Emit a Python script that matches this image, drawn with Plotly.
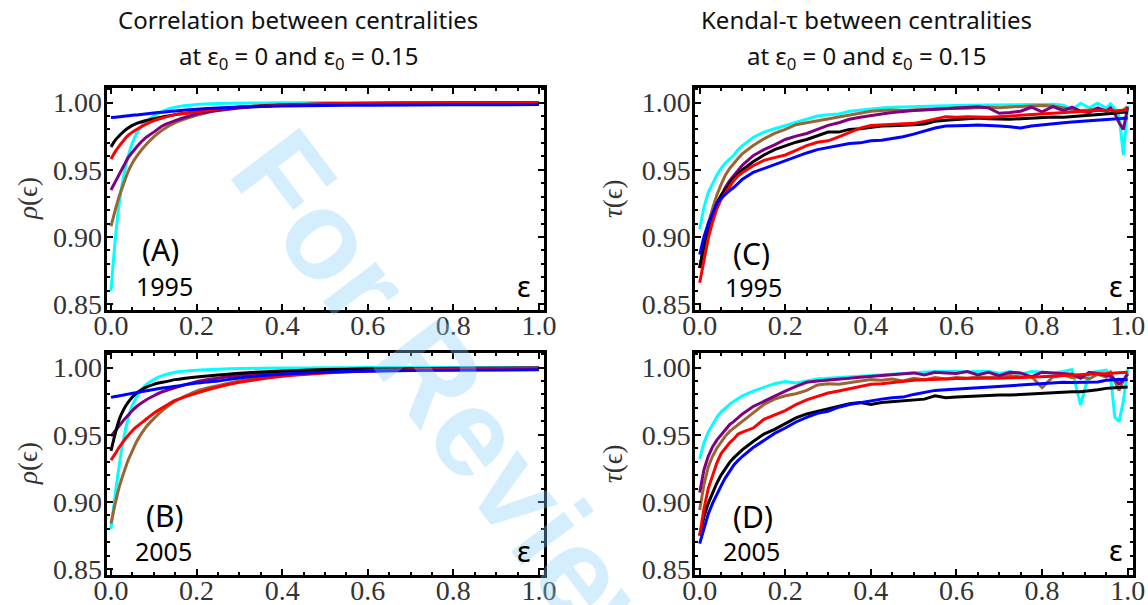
import plotly.graph_objects as go

# ---------------- data ----------------
x_rho = [0, 0.01, 0.02, 0.03, 0.04, 0.05, 0.06, 0.08, 0.1, 0.12, 0.15, 0.2, 0.25, 0.3, 0.4, 0.5, 0.6, 0.8, 1.0]

rhoA_cyan   = [0.860, 0.898, 0.927, 0.946, 0.960, 0.970, 0.977, 0.9855, 0.990, 0.9935, 0.9965, 0.9985, 0.9992, 0.9995, 0.9998, 1.0, 1.0, 1.0, 1.0]
rhoA_brown  = [0.908, 0.920, 0.931, 0.940, 0.9485, 0.955, 0.960, 0.968, 0.9745, 0.9795, 0.985, 0.9905, 0.9945, 0.9965, 0.9985, 0.999, 0.9994, 0.9996, 0.9997]
rhoA_purple = [0.935, 0.941, 0.947, 0.953, 0.959, 0.963, 0.967, 0.9735, 0.978, 0.9825, 0.9865, 0.9915, 0.994, 0.996, 0.998, 0.9988, 0.9993, 0.9996, 0.9997]
rhoA_black  = [0.967, 0.972, 0.9755, 0.9785, 0.981, 0.983, 0.9845, 0.9865, 0.988, 0.9893, 0.991, 0.993, 0.995, 0.9965, 0.998, 0.9988, 0.9992, 0.9995, 0.9997]
rhoA_red    = [0.958, 0.9635, 0.968, 0.972, 0.9755, 0.978, 0.980, 0.9835, 0.9865, 0.9885, 0.991, 0.993, 0.995, 0.9965, 0.998, 0.999, 0.9994, 0.9997, 0.9998]
rhoA_blue   = [0.9888, 0.9891, 0.9894, 0.9898, 0.9901, 0.9905, 0.9908, 0.9915, 0.9922, 0.9928, 0.9937, 0.995, 0.996, 0.9966, 0.9974, 0.9978, 0.998, 0.9983, 0.9985]

rhoB_cyan   = [0.880, 0.906, 0.929, 0.948, 0.962, 0.972, 0.978, 0.9865, 0.991, 0.994, 0.9965, 0.998, 0.9988, 0.9992, 0.9996, 0.9998, 1.0, 1.0, 1.0]
rhoB_brown  = [0.884, 0.899, 0.912, 0.922, 0.931, 0.938, 0.945, 0.955, 0.962, 0.968, 0.975, 0.9825, 0.9865, 0.990, 0.9945, 0.997, 0.9983, 0.9992, 0.9995]
rhoB_purple = [0.949, 0.953, 0.957, 0.961, 0.9645, 0.968, 0.971, 0.9755, 0.979, 0.982, 0.985, 0.9895, 0.992, 0.994, 0.9965, 0.998, 0.9988, 0.9994, 0.9996]
rhoB_black  = [0.938, 0.951, 0.962, 0.969, 0.974, 0.978, 0.981, 0.985, 0.9875, 0.989, 0.991, 0.993, 0.9945, 0.9958, 0.9975, 0.9985, 0.999, 0.9993, 0.9995]
rhoB_red    = [0.931, 0.936, 0.941, 0.9455, 0.9495, 0.953, 0.956, 0.961, 0.966, 0.970, 0.9755, 0.981, 0.9855, 0.989, 0.9935, 0.996, 0.9975, 0.999, 0.9995]
rhoB_blue   = [0.9778, 0.9784, 0.979, 0.9796, 0.9802, 0.9808, 0.9814, 0.9826, 0.9837, 0.9847, 0.986, 0.9885, 0.990, 0.9922, 0.995, 0.9965, 0.9973, 0.998, 0.9983]

x_tau = [0, 0.01, 0.02, 0.03, 0.04, 0.05, 0.06, 0.07, 0.08, 0.09, 0.10, 0.125, 0.15, 0.175, 0.2,
         0.225, 0.25, 0.275, 0.3, 0.325, 0.35, 0.375, 0.4, 0.425, 0.45, 0.475, 0.5, 0.525, 0.55,
         0.575, 0.6, 0.625, 0.65, 0.675, 0.7, 0.725, 0.75, 0.775, 0.8, 0.825, 0.85, 0.87, 0.89,
         0.91, 0.93, 0.95, 0.96, 0.97, 0.98, 0.99, 1.0]

tauC_cyan = [0.906, 0.922, 0.933, 0.940, 0.946, 0.951, 0.955, 0.958, 0.961, 0.965, 0.968, 0.974, 0.978, 0.9805, 0.983,
             0.9855, 0.9875, 0.990, 0.991, 0.9915, 0.9935, 0.9945, 0.9955, 0.996, 0.9965, 0.9968, 0.997, 0.997, 0.9973,
             0.9975, 0.9978, 0.998, 0.998, 0.9982, 0.998, 0.9983, 0.9985, 0.9985, 0.9986, 0.9988, 0.998, 0.9945, 0.9995,
             0.996, 0.9995, 0.9958, 0.999, 0.9955, 0.990, 0.961, 0.9975]
tauC_brown = [0.877, 0.895, 0.910, 0.921, 0.931, 0.939, 0.946, 0.951, 0.955, 0.9585, 0.962, 0.968, 0.973, 0.977, 0.980,
              0.9835, 0.985, 0.9865, 0.988, 0.9895, 0.991, 0.992, 0.9935, 0.994, 0.9945, 0.994, 0.9945, 0.9948, 0.995,
              0.9955, 0.996, 0.9958, 0.9962, 0.9965, 0.9962, 0.9968, 0.997, 0.9975, 0.9978, 0.9975, 0.996, 0.995, 0.994,
              0.9945, 0.9955, 0.994, 0.9945, 0.9935, 0.994, 0.9945, 0.997]
tauC_purple = [0.877, 0.893, 0.906, 0.916, 0.924, 0.931, 0.937, 0.942, 0.946, 0.950, 0.9535, 0.9605, 0.965, 0.9685, 0.9725,
               0.975, 0.977, 0.980, 0.983, 0.985, 0.9875, 0.989, 0.9905, 0.9915, 0.9925, 0.9935, 0.994, 0.9945, 0.995,
               0.9955, 0.996, 0.9965, 0.9968, 0.996, 0.992, 0.9925, 0.9935, 0.9965, 0.993, 0.997, 0.994, 0.9965, 0.9935,
               0.9925, 0.996, 0.9935, 0.996, 0.9915, 0.985, 0.980, 0.9965]
tauC_black = [0.877, 0.893, 0.906, 0.916, 0.925, 0.931, 0.935, 0.940, 0.944, 0.947, 0.950, 0.956, 0.961, 0.965, 0.968,
              0.9705, 0.9725, 0.975, 0.978, 0.978, 0.980, 0.9805, 0.9815, 0.9825, 0.9828, 0.983, 0.9835, 0.984, 0.986,
              0.9868, 0.9875, 0.988, 0.9885, 0.988, 0.9875, 0.9875, 0.988, 0.9885, 0.989, 0.9892, 0.989, 0.9895, 0.990,
              0.9905, 0.991, 0.991, 0.9915, 0.992, 0.9925, 0.993, 0.993]
tauC_red = [0.866, 0.884, 0.899, 0.911, 0.921, 0.928, 0.933, 0.938, 0.942, 0.9455, 0.948, 0.953, 0.957, 0.959, 0.961,
            0.9645, 0.968, 0.9705, 0.9715, 0.9745, 0.978, 0.981, 0.983, 0.9835, 0.984, 0.984, 0.9845, 0.986, 0.988,
            0.9895, 0.989, 0.9895, 0.9892, 0.989, 0.9895, 0.990, 0.9905, 0.991, 0.9915, 0.992, 0.9925, 0.993, 0.9935,
            0.9935, 0.994, 0.994, 0.9945, 0.9935, 0.994, 0.9945, 0.9945]
tauC_blue = [0.887, 0.900, 0.910, 0.918, 0.925, 0.929, 0.932, 0.9345, 0.937, 0.940, 0.943, 0.948, 0.951, 0.954, 0.957,
             0.960, 0.9625, 0.965, 0.9665, 0.968, 0.9695, 0.970, 0.9715, 0.972, 0.973, 0.9745, 0.9765, 0.979, 0.981,
             0.9825, 0.983, 0.983, 0.9832, 0.983, 0.9825, 0.982, 0.981, 0.9825, 0.9835, 0.9845, 0.985, 0.9855, 0.986,
             0.9865, 0.987, 0.987, 0.9875, 0.9875, 0.988, 0.988, 0.9885]

tauD_cyan = [0.932, 0.944, 0.952, 0.958, 0.963, 0.967, 0.970, 0.9725, 0.975, 0.977, 0.979, 0.9825, 0.9855, 0.988, 0.9895,
             0.9885, 0.990, 0.9915, 0.992, 0.9925, 0.9935, 0.994, 0.9945, 0.995, 0.9955, 0.996, 0.9965, 0.9965, 0.997,
             0.997, 0.9972, 0.9968, 0.997, 0.9972, 0.9955, 0.997, 0.995, 0.997, 0.9965, 0.996, 0.997, 0.9985, 0.972,
             0.996, 0.997, 0.998, 0.994, 0.963, 0.960, 0.975, 0.999]
tauD_purple = [0.907, 0.924, 0.934, 0.941, 0.946, 0.950, 0.954, 0.9575, 0.960, 0.963, 0.9655, 0.971, 0.975, 0.979, 0.9825,
               0.986, 0.989, 0.990, 0.9905, 0.991, 0.992, 0.9928, 0.9935, 0.994, 0.995, 0.9955, 0.996, 0.9945, 0.9965,
               0.996, 0.9955, 0.997, 0.9945, 0.9965, 0.994, 0.9965, 0.996, 0.993, 0.9965, 0.996, 0.9955, 0.995, 0.992,
               0.9965, 0.9955, 0.9945, 0.9935, 0.991, 0.988, 0.9905, 0.995]
tauD_brown = [0.894, 0.913, 0.926, 0.934, 0.940, 0.945, 0.949, 0.9525, 0.955, 0.9575, 0.960, 0.966, 0.9725, 0.9765, 0.979,
              0.9805, 0.983, 0.987, 0.988, 0.9875, 0.9885, 0.990, 0.991, 0.9905, 0.9915, 0.990, 0.992, 0.991, 0.9925,
              0.9915, 0.9925, 0.992, 0.993, 0.9925, 0.9935, 0.994, 0.993, 0.9935, 0.985, 0.993, 0.9945, 0.9925, 0.9935,
              0.9915, 0.995, 0.993, 0.9965, 0.9895, 0.983, 0.9905, 0.996]
tauD_red = [0.875, 0.895, 0.910, 0.920, 0.929, 0.936, 0.940, 0.944, 0.947, 0.9505, 0.952, 0.955, 0.9615, 0.965, 0.968,
            0.9725, 0.976, 0.9785, 0.981, 0.9825, 0.984, 0.9858, 0.9875, 0.988, 0.989, 0.9898, 0.9905, 0.991, 0.9915,
            0.9915, 0.9918, 0.992, 0.992, 0.992, 0.992, 0.9922, 0.9925, 0.993, 0.9932, 0.9935, 0.994, 0.9942, 0.9945,
            0.995, 0.995, 0.9955, 0.9958, 0.996, 0.9962, 0.9965, 0.9965]
tauD_black = [0.875, 0.889, 0.899, 0.907, 0.914, 0.920, 0.925, 0.9295, 0.933, 0.936, 0.939, 0.945, 0.9505, 0.954, 0.9585,
              0.9625, 0.9655, 0.9675, 0.969, 0.9715, 0.973, 0.974, 0.9725, 0.974, 0.9745, 0.975, 0.9755, 0.9765, 0.979,
              0.9775, 0.978, 0.9785, 0.9785, 0.979, 0.9795, 0.9795, 0.980, 0.9805, 0.981, 0.981, 0.9815, 0.982, 0.982,
              0.9825, 0.9835, 0.9845, 0.985, 0.985, 0.9852, 0.9855, 0.9855]
tauD_blue = [0.869, 0.881, 0.891, 0.899, 0.906, 0.912, 0.918, 0.923, 0.9275, 0.931, 0.934, 0.9405, 0.946, 0.951, 0.955,
             0.9595, 0.963, 0.966, 0.9675, 0.9705, 0.9725, 0.974, 0.9755, 0.9765, 0.9775, 0.978, 0.980, 0.9815, 0.983,
             0.9835, 0.984, 0.985, 0.9855, 0.986, 0.9865, 0.987, 0.9875, 0.988, 0.9885, 0.9888, 0.989, 0.9888, 0.9888,
             0.989, 0.9892, 0.9905, 0.991, 0.991, 0.9912, 0.991, 0.991]

x_ticks = [0, 0.2, 0.4, 0.6, 0.8, 1.0]
y_ticks = [0.85, 0.90, 0.95, 1.00]

colors = {"cyan": "#00FFFF", "brown": "#996633", "purple": "#800080",
          "black": "#000000", "red": "#FF0000", "blue": "#0000FF"}

panels = [
    ("A", x_rho, {"cyan": rhoA_cyan, "brown": rhoA_brown, "purple": rhoA_purple, "black": rhoA_black, "red": rhoA_red, "blue": rhoA_blue}, "spline"),
    ("B", x_rho, {"cyan": rhoB_cyan, "brown": rhoB_brown, "purple": rhoB_purple, "black": rhoB_black, "red": rhoB_red, "blue": rhoB_blue}, "spline"),
    ("C", x_tau, {"cyan": tauC_cyan, "brown": tauC_brown, "purple": tauC_purple, "black": tauC_black, "red": tauC_red, "blue": tauC_blue}, "linear"),
    ("D", x_tau, {"cyan": tauD_cyan, "brown": tauD_brown, "purple": tauD_purple, "black": tauD_black, "red": tauD_red, "blue": tauD_blue}, "linear"),
]

# ---------------- layout geometry (pixels) ----------------
W, H = 1148, 605
XR = [-0.01, 1.012]
YR = [0.8455, 1.0108]
dom_px = {
    "A": ((106.7, 544.1), (88.0, 310.3)),
    "B": ((106.7, 544.1), (353.0, 575.3)),
    "C": ((695.4, 1132.8), (88.0, 310.3)),
    "D": ((695.4, 1132.8), (353.0, 575.3)),
}

serif = "Liberation Serif, Times New Roman, Times, serif"
sans = "Noto Sans, Open Sans, sans-serif"
narrow = "Liberation Sans Narrow, Arial Narrow, Noto Sans, sans-serif"

fig = go.Figure()
layout = dict(width=W, height=H, margin=dict(l=0, r=0, t=0, b=0, autoexpand=False),
              paper_bgcolor="white", plot_bgcolor="white", showlegend=False,
              font=dict(family=serif, size=28, color="#333333"))

tickfont = dict(family=serif, size=28, color="#333333")

for i, (name, xs, series, shape) in enumerate(panels):
    k = "" if i == 0 else str(i + 1)
    (x0, x1), (y0, y1) = dom_px[name]
    for c in ["cyan", "brown", "purple", "black", "red", "blue"]:
        fig.add_trace(go.Scatter(x=xs, y=series[c], mode="lines",
                                 line=dict(color=colors[c], width=3, shape=shape, smoothing=0.6),
                                 xaxis="x" + k, yaxis="y" + k, hoverinfo="skip"))
    layout["xaxis" + k] = dict(domain=[x0 / W, x1 / W], range=XR, anchor="y" + k,
                               tickvals=x_ticks, tickformat=".1f", ticklabelstandoff=-12,
                               ticks="inside", ticklen=6, tickwidth=2, tickcolor="black",
                               minor=dict(dtick=0.05, tick0=0, ticks="inside", ticklen=3, tickwidth=1.5, tickcolor="black"),
                               showline=True, linecolor="black", linewidth=3, mirror="allticks",
                               showgrid=False, zeroline=False, tickfont=dict(tickfont), fixedrange=True)
    layout["yaxis" + k] = dict(domain=[1 - y1 / H, 1 - y0 / H], range=YR, anchor="x" + k,
                               tickvals=y_ticks, tickformat=".2f", ticklabelstandoff=-4,
                               ticks="inside", ticklen=6, tickwidth=2, tickcolor="black",
                               minor=dict(dtick=0.01, tick0=0.85, ticks="inside", ticklen=3, tickwidth=1.5, tickcolor="black"),
                               showline=True, linecolor="black", linewidth=3, mirror="allticks",
                               showgrid=False, zeroline=False, tickfont=dict(tickfont), fixedrange=True)

annotations = []
def ann(text, px, py, size, family, color="black", angle=0):
    annotations.append(dict(text=text, x=px / W, y=1 - py / H, xref="paper", yref="paper",
                            showarrow=False, xanchor="center", yanchor="middle", textangle=angle,
                            font=dict(size=size, family=family, color=color)))

# watermark (drawn first, lies under the other texts)
ann("<b>For Review</b>", 462, 413, 125, "Liberation Sans, Arial, sans-serif",
    "rgba(135,206,250,0.35)", angle=53)

# titles
ann("Correlation between centralities", 298, 19, 24, narrow, "#111")
ann("at ε<sub>0</sub> = 0 and ε<sub>0</sub> = 0.15", 298, 57, 24, narrow, "#111")
ann("Kendal-τ between centralities", 866, 19, 24, narrow, "#111")
ann("at ε<sub>0</sub> = 0 and ε<sub>0</sub> = 0.15", 866, 57, 24, narrow, "#111")

# y-axis titles
for py in (199, 464):
    ann("<i>ρ</i>(ϵ)", 28, py, 27, serif, "#333", angle=-90)
    ann("<i>τ</i>(ϵ)", 613, py, 27, serif, "#333", angle=-90)

# panel labels
ann("(A)", 160, 249, 30, sans); ann("1995", 164, 286, 25, sans)
ann("(B)", 165, 515, 30, sans); ann("2005", 163, 551, 25, sans)
ann("(C)", 752, 253, 30, sans); ann("1995", 753, 287, 25, sans)
ann("(D)", 753, 516, 30, sans); ann("2005", 752, 551, 25, sans)
for px, py in [(524, 285), (1116, 285), (524, 550), (1116, 549)]:
    ann("ε", px, py, 29, sans)

layout["annotations"] = annotations
fig.update_layout(**layout)
fig.write_html("out.html", config={"displayModeBar": False},
               post_script="document.body.style.margin='0';document.body.style.padding='0';")
